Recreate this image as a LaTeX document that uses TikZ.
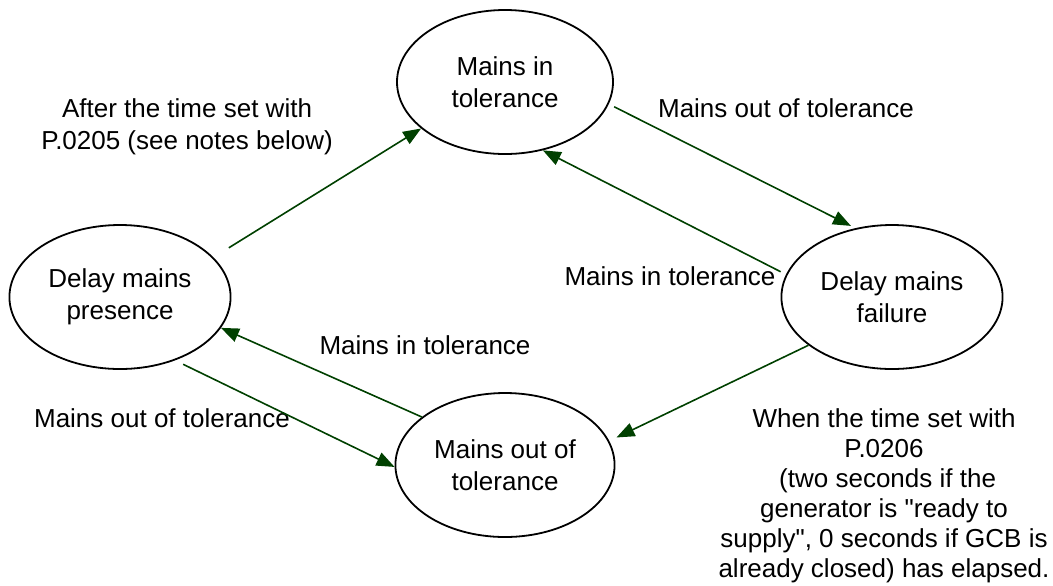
\documentclass[tikz,border=0pt]{standalone}
\usepackage{fontspec}
\setmainfont{Liberation Sans}
\usetikzlibrary{arrows.meta,shapes.geometric}
\definecolor{arrowgreen}{RGB}{0,64,0}

\begin{document}
\begin{tikzpicture}[x=.5pt,y=-.5pt,>={Triangle[length=9pt,width=7pt]},
  mstate/.style={draw,ellipse,line width=.9pt,minimum width=108pt,minimum height=72pt,align=center,font=\fontsize{13}{16}\selectfont},
  lbl/.style={align=center,inner sep=0pt,font=\fontsize{13}{16}\selectfont},
  trans/.style={->,draw=arrowgreen,line width=.8pt}]
  \useasboundingbox (0,0) rectangle (1053,585);
  \node[mstate] (intol) at (505,82) {Mains in\\tolerance};
  \node[mstate] (dfail) at (892,297) {Delay mains\\failure};
  \node[mstate,minimum width=110pt] (dpres) at (120,297) {Delay mains\\presence};
  \node[mstate] (outtol) at (505,465) {Mains out of\\tolerance};
  \node[lbl] (aftertxt) at (187,127) {After the time set with\\P.0205 (see notes below)};
  \node[lbl] (outtxt1) at (786,108) {Mains out of tolerance};
  \node[lbl] (intxt1) at (670,276) {Mains in tolerance};
  \node[lbl] (intxt2) at (425,345) {Mains in tolerance};
  \node[lbl] (outtxt2) at (162,418) {Mains out of tolerance};
  \node[lbl,font=\fontsize{13}{15}\selectfont] (whentxt) at (884,496) {When the time set with\\P.0206\\~(two seconds if the\\generator is \textquotedbl ready to\\supply\textquotedbl, 0 seconds if GCB is\\already closed) has elapsed.};
  \draw[trans,shorten <=9pt] (dpres.23) -- (intol.209);
  \draw[trans,shorten <=3pt,shorten >=2.5pt] (intol.-12) -- (dfail.118);
  \draw[trans,shorten <=3pt] (dfail.168) -- (intol.-61);
  \draw[trans,shorten >=4pt] (dfail.210) -- (outtol.13);
  \draw[trans] (outtol.150) -- (dpres.-17);
  \draw[trans,shorten <=4.5pt] (dpres.-49) -- (outtol.181);
\end{tikzpicture}
\end{document}
